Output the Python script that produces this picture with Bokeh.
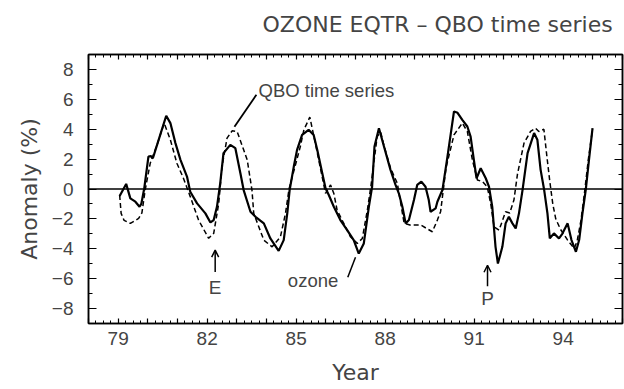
from bokeh.plotting import figure
from bokeh.models import (FixedTicker, LinearAxis, Range1d, Arrow, OpenHead,
                          Label, Span, ColumnDataSource)
from bokeh.embed import file_html
from bokeh.resources import INLINE

# ---- data ----
ozone_year = [79.05, 79.27, 79.41, 79.58, 79.72, 79.78, 79.88, 80.02, 80.10, 80.17,
              80.33, 80.62, 80.76, 80.93, 81.10, 81.32, 81.43, 81.66, 81.94, 82.11,
              82.22, 82.33, 82.44, 82.55, 82.78, 82.95, 83.12, 83.23, 83.46, 83.63,
              83.91, 84.13, 84.41, 84.58, 84.70, 84.78, 84.92, 85.03, 85.20, 85.42,
              85.59, 85.71, 85.88, 85.99, 86.10, 86.27, 86.49, 86.72, 86.94, 87.11,
              87.28, 87.45, 87.56, 87.64, 87.79, 87.96, 88.18, 88.35, 88.46, 88.58,
              88.69, 88.80, 88.97, 89.08, 89.22, 89.36, 89.47, 89.53, 89.70, 89.76,
              89.93, 90.10, 90.32, 90.44, 90.60, 90.77, 90.88, 90.99, 91.08, 91.22,
              91.39, 91.50, 91.61, 91.72, 91.80, 91.95, 92.06, 92.17, 92.29, 92.40,
              92.51, 92.63, 92.80, 93.02, 93.13, 93.24, 93.36, 93.47, 93.55, 93.69,
              93.86, 93.97, 94.15, 94.28, 94.43, 94.54, 94.65, 94.76, 94.87, 94.99]
ozone_val = [-0.47, 0.34, -0.63, -0.85, -1.19, -1.00, 0.05, 2.17, 2.20, 2.06,
             3.07, 4.90, 4.41, 3.07, 1.95, 0.83, -0.18, -0.96, -1.63, -2.24,
             -2.08, -1.19, 0.38, 2.40, 2.95, 2.73, 1.05, -0.07, -1.52, -1.86,
             -2.30, -3.31, -4.14, -3.42, -1.63, -0.07, 1.50, 2.62, 3.62, 3.96,
             3.62, 2.62, 1.05, 0.05, -0.40, -1.19, -2.08, -2.75, -3.42, -4.32,
             -3.64, -1.19, 0.15, 2.84, 4.07, 2.84, 1.28, 0.27, -0.29, -1.19,
             -2.30, -2.08, -0.74, 0.27, 0.49, 0.15, -0.74, -1.52, -1.30, -0.85,
             -0.07, 2.17, 5.19, 5.10, 4.63, 4.18, 3.51, 1.95, 0.72, 1.39,
             0.72, 0.15, -1.20, -3.87, -4.99, -3.87, -2.30, -1.86, -2.30, -2.64,
             -1.63, -0.07, 2.40, 3.74, 3.30, 1.28, -0.07, -1.63, -3.30, -2.97,
             -3.31, -3.00, -2.30, -3.42, -4.20, -3.40, -1.63, -0.07, 1.95, 4.07]

qbo_year = [79.05, 79.10, 79.20, 79.41, 79.69, 79.80, 79.91, 80.08, 80.31, 80.55,
            80.76, 80.98, 81.20, 81.43, 81.71, 82.05, 82.22, 82.39, 82.50, 82.67,
            82.84, 83.01, 83.23, 83.35, 83.51, 83.57, 83.91, 84.19, 84.47, 84.64,
            84.76, 85.14, 85.26, 85.46, 85.59, 85.76, 85.99, 86.16, 86.27, 86.38,
            86.83, 87.06, 87.23, 87.40, 87.52, 87.73, 87.85, 87.96, 88.18, 88.41,
            88.64, 88.86, 89.19, 89.59, 89.76, 89.87, 90.00, 90.06, 90.32, 90.60,
            90.77, 90.94, 91.11, 91.28, 91.44, 91.56, 91.67, 91.84, 92.06, 92.20,
            92.34, 92.46, 92.68, 92.90, 93.07, 93.18, 93.35, 93.45, 93.55, 93.65,
            93.75, 93.91, 94.15, 94.37, 94.47, 94.60, 94.71, 94.85, 94.99]
qbo_val = [-0.40, -1.63, -2.10, -2.30, -1.97, -1.60, -0.07, 1.72, 2.95, 4.41,
           3.29, 1.72, 0.72, -0.51, -2.08, -3.30, -2.97, -0.96, 1.50, 3.40,
           3.89, 3.85, 2.62, 1.95, -0.07, -1.63, -3.42, -3.87, -3.20, -1.63,
           0.00, 2.84, 3.96, 4.81, 3.60, 1.95, -0.29, 0.27, -0.30, -1.41,
           -3.20, -3.64, -3.31, -1.41, 0.20, 3.51, 3.80, 2.90, 1.40, 0.38,
           -2.30, -2.42, -2.40, -2.86, -2.08, -1.50, 0.60, 1.50, 3.62, 4.41,
           3.85, 1.95, 0.60, 0.50, 0.15, -1.00, -2.53, -2.75, -1.52, -1.60,
           -0.74, 1.00, 3.07, 3.85, 4.07, 3.85, 4.00, 2.20, 0.50, -1.00,
           -2.00, -2.70, -3.42, -3.98, -3.50, -2.10, -0.40, 2.00, 4.00]

year_ticks = list(range(78, 97))
year_labels = {78: "", 79: "79", 80: "", 81: "", 82: "82", 83: "", 84: "", 85: "85",
               86: "", 87: "", 88: "88", 89: "", 90: "", 91: "91", 92: "", 93: "",
               94: "94", 95: "", 96: ""}
anom_ticks = [-8, -6, -4, -2, 0, 2, 4, 6, 8]
anom_labels = {-8: "\u22128", -6: "\u22126", -4: "\u22124", -2: "\u22122", 0: "0",
               2: "2", 4: "4", 6: "6", 8: "8"}

TXT = "DejaVu Sans"
NUM = "Liberation Sans"

p = figure(width=624, height=389, output_backend="svg", toolbar_location=None,
           x_range=Range1d(78, 96), y_range=Range1d(-9, 9),
           x_axis_location=None, y_axis_location=None,
           min_border_left=88, min_border_right=2, min_border_top=54,
           min_border_bottom=66)
p.grid.visible = False
p.outline_line_color = "black"
p.outline_line_width = 1.5
p.background_fill_color = "white"
p.border_fill_color = "white"

p.title.text = "OZONE EQTR \u2013 QBO time series"
p.title.text_font = TXT
p.title.text_font_style = "normal"
p.title.text_font_size = "22px"
p.title.align = "left"
p.title.offset = 174
p.title.standoff = 16

xt = FixedTicker(ticks=year_ticks,
                 minor_ticks=[78 + 0.25 * i for i in range(0, 73)])
yt = FixedTicker(ticks=anom_ticks, minor_ticks=list(range(-9, 10)))


def style(ax, major_in, minor_in, show):
    ax.major_tick_in = major_in
    ax.major_tick_out = 0
    ax.minor_tick_in = minor_in
    ax.minor_tick_out = 0
    ax.axis_line_color = "black"
    ax.axis_line_width = 1.5
    ax.major_tick_line_width = 1.2
    ax.minor_tick_line_width = 1.0
    if not show:
        ax.major_label_text_font_size = "0px"
        ax.major_label_standoff = 0


xb = LinearAxis(ticker=xt, major_label_overrides=year_labels, axis_label="Year")
style(xb, 5, 3, True)
xb.major_label_text_font = NUM
xb.major_label_text_font_size = "19px"
xb.major_label_standoff = 8
xb.axis_label_text_font = TXT
xb.axis_label_text_font_style = "normal"
xb.axis_label_text_font_size = "22px"
xb.axis_label_standoff = 12
p.add_layout(xb, "below")

xa = LinearAxis(ticker=xt, major_label_overrides={k: "" for k in year_ticks})
style(xa, 5, 3, False)
p.add_layout(xa, "above")

# invisible spacer above the top ticks, lifting the title
spacer = LinearAxis(ticker=FixedTicker(ticks=[87]), major_label_overrides={87: ""},
                    major_tick_in=0, major_tick_out=10, minor_tick_in=0,
                    minor_tick_out=0, axis_line_color=None,
                    major_tick_line_color=None, minor_tick_line_color=None,
                    major_label_text_font_size="0px", major_label_standoff=0)
p.add_layout(spacer, "above")

yl = LinearAxis(ticker=yt, major_label_overrides=anom_labels, axis_label="Anomaly (%)")
style(yl, 8, 4, True)
yl.major_label_text_font = NUM
yl.major_label_text_font_size = "19px"
yl.major_label_standoff = 15
yl.axis_label_text_font = TXT
yl.axis_label_text_font_style = "normal"
yl.axis_label_text_font_size = "22px"
yl.axis_label_standoff = 7
p.add_layout(yl, "left")

yr = LinearAxis(ticker=yt, major_label_overrides={k: "" for k in anom_ticks})
style(yr, 8, 4, False)
p.add_layout(yr, "right")

# zero line
p.add_layout(Span(location=0, dimension="width", line_color="black", line_width=1.5))

src_o = ColumnDataSource(dict(x=ozone_year, y=ozone_val))
src_q = ColumnDataSource(dict(x=qbo_year, y=qbo_val))
p.line("x", "y", source=src_q, line_color="black", line_width=1.5, line_dash="5 3")
p.line("x", "y", source=src_o, line_color="black", line_width=2.2)

# annotations
p.add_layout(Label(x=83.73, y=6.6, text="QBO time series", text_font=NUM,
                   text_font_size="18.5px", text_baseline="middle", text_align="left"))
p.segment(x0=[83.66], y0=[6.31], x1=[82.92], y1=[4.16], line_color="black", line_width=1.8)

p.add_layout(Label(x=85.57, y=-6.1, text="ozone", text_font=NUM,
                   text_font_size="18.5px", text_baseline="middle", text_align="center"))
p.segment(x0=[86.74], y0=[-5.91], x1=[87.0], y1=[-4.56], line_color="black", line_width=1.5)

p.add_layout(Arrow(x_start=82.27, y_start=-5.55, x_end=82.27, y_end=-4.09,
                   line_width=1.5, end=OpenHead(size=7, line_width=1.5)))
p.add_layout(Label(x=82.27, y=-6.56, text="E", text_font=NUM, text_font_size="19px",
                   text_baseline="middle", text_align="center"))
p.add_layout(Arrow(x_start=91.45, y_start=-6.51, x_end=91.45, y_end=-5.1,
                   line_width=1.5, end=OpenHead(size=7, line_width=1.5)))
p.add_layout(Label(x=91.45, y=-7.34, text="P", text_font=NUM, text_font_size="19px",
                   text_baseline="middle", text_align="center"))

open("out.html", "w").write(file_html(p, INLINE))
